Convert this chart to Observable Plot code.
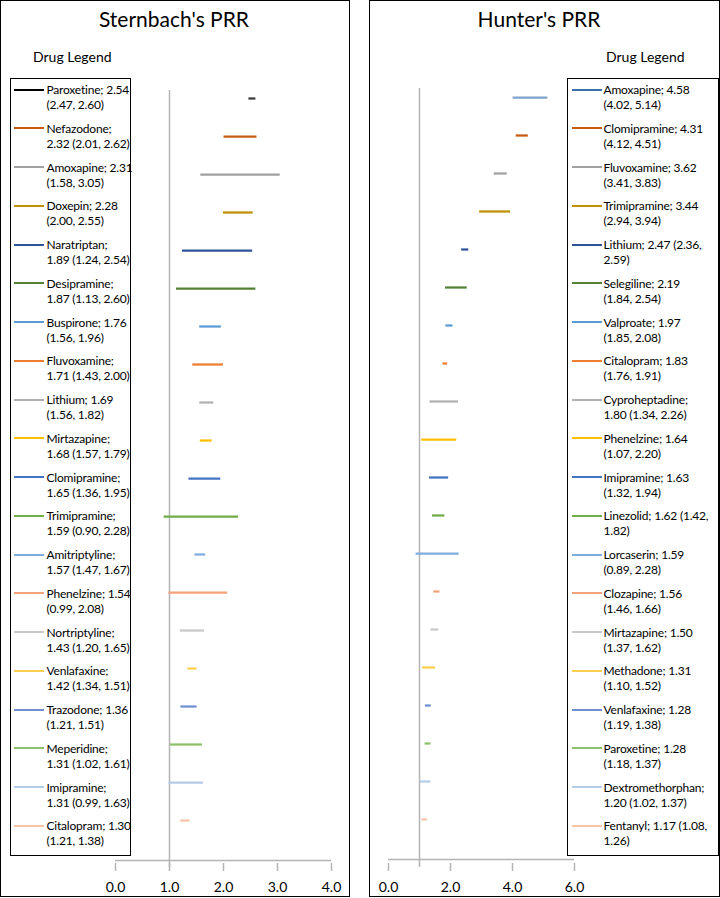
<!DOCTYPE html>
<html><head><meta charset="utf-8">
<script src="https://cdn.jsdelivr.net/npm/d3@7"></script>
<script src="https://cdn.jsdelivr.net/npm/@observablehq/plot@0.6"></script>
<style>
html,body{margin:0;padding:0;background:#fff;}
body{width:720px;height:898px;position:relative;overflow:hidden;font-family:Lato,"Open Sans",sans-serif;color:#000;}
.panel{position:absolute;top:0;height:897px;border:1.5px solid #000;box-sizing:border-box;}
.title{position:absolute;top:4px;font-size:21px;line-height:30px;text-align:center;white-space:nowrap;}
.dl{position:absolute;top:48px;font-size:14px;line-height:18px;white-space:nowrap;}
.legend{position:absolute;top:78px;height:778px;border:1.5px solid #000;box-sizing:border-box;background:#fff;padding-top:3px;}
.item{height:38.75px;position:relative;}
.swatch{position:absolute;top:6.5px;width:30px;height:2px;}
.txt{position:absolute;font-size:12px;line-height:15px;white-space:nowrap;letter-spacing:-0.2px;}
.chart{position:absolute;top:0;}
</style></head><body>
<script>
// ---- Sternbach's PRR ----
const sternDrugs = ["Paroxetine","Nefazodone","Amoxapine","Doxepin","Naratriptan","Desipramine","Buspirone","Fluvoxamine","Lithium","Mirtazapine","Clomipramine","Trimipramine","Amitriptyline","Phenelzine","Nortriptyline","Venlafaxine","Trazodone","Meperidine","Imipramine","Citalopram"];
const sternEst = [2.54,2.32,2.31,2.28,1.89,1.87,1.76,1.71,1.69,1.68,1.65,1.59,1.57,1.54,1.43,1.42,1.36,1.31,1.31,1.30];
const sternLo  = [2.47,2.01,1.58,2.00,1.24,1.13,1.56,1.43,1.56,1.57,1.36,0.90,1.47,0.99,1.20,1.34,1.21,1.02,0.99,1.21];
const sternHi  = [2.60,2.62,3.05,2.55,2.54,2.60,1.96,2.00,1.82,1.79,1.95,2.28,1.67,2.08,1.65,1.51,1.51,1.61,1.63,1.38];
const sternBreak = [2,1,2,2,1,1,2,1,2,1,1,1,1,2,1,1,2,1,1,2];
const sternTicks = [0,1,2,3,4];

// ---- Hunter's PRR ----
const hunterDrugs = ["Amoxapine","Clomipramine","Fluvoxamine","Trimipramine","Lithium","Selegiline","Valproate","Citalopram","Cyproheptadine","Phenelzine","Imipramine","Linezolid","Lorcaserin","Clozapine","Mirtazapine","Methadone","Venlafaxine","Paroxetine","Dextromethorphan","Fentanyl"];
const hunterEst = [4.58,4.31,3.62,3.44,2.47,2.19,1.97,1.83,1.80,1.64,1.63,1.62,1.59,1.56,1.50,1.31,1.28,1.28,1.20,1.17];
const hunterLo  = [4.02,4.12,3.41,2.94,2.36,1.84,1.85,1.76,1.34,1.07,1.32,1.42,0.89,1.46,1.37,1.10,1.19,1.18,1.02,1.08];
const hunterHi  = [5.14,4.51,3.83,3.94,2.59,2.54,2.08,1.91,2.26,2.20,1.94,1.82,2.28,1.66,1.62,1.52,1.38,1.37,1.37,1.26];
const hunterBreak = [2,2,2,2,3,2,2,2,1,2,2,3,2,2,2,2,2,2,1,3];
const hunterTicks = [0,2,4,6];

// series palette (Excel-like)
const palette = ["#000000","#c55a11","#a0a0a0","#bf9000","#2f5597","#548235","#5b9bd5","#ed7d31","#b0b0b0","#ffc000","#4472c4","#70ad47","#7eaede","#f4a27a","#c9c9c9","#ffd04f","#6f8fd0","#8cc168","#b4cbea","#f8c4a8"];
const sternLegendColors = palette;
const sternLineColors = ["#3a3a3a"].concat(palette.slice(1));
const hunterLegendColors = ["#3a70ad"].concat(palette.slice(1));
const hunterLineColors = ["#7ea3cb"].concat(palette.slice(1));
const axisGray = "#b4b4b4";

function labelLines(name, est, lo, hi, brk) {
  const parts = [name + ";", est.toFixed(2), "(" + lo.toFixed(2) + ",", hi.toFixed(2) + ")"];
  return [parts.slice(0, brk).join(" "), parts.slice(brk).join(" ")];
}

function el(tag, cls, parent, style) {
  const e = document.createElement(tag);
  if (cls) e.className = cls;
  if (style) Object.assign(e.style, style);
  if (parent) parent.appendChild(e);
  return e;
}

function drawPanel(cfg) {
  el("div", "panel", document.body, {left: cfg.panelLeft + "px", width: cfg.panelWidth + "px"});
  const data = cfg.drugs.map((d, i) => ({drug: d, lo: cfg.lo[i], hi: cfg.hi[i], est: cfg.est[i], color: cfg.lineColors[i]}));
  const lastDrug = cfg.drugs[cfg.drugs.length - 1];
  const chart = Plot.plot({
    width: 360, height: 898,
    marginLeft: cfg.marginLeft, marginRight: cfg.marginRight,
    marginTop: cfg.ruleTop, marginBottom: 31,
    x: {domain: cfg.xDomain},
    y: {type: "point", domain: cfg.drugs, range: cfg.yRange, padding: 0, axis: null},
    color: {type: "identity"},
    style: {fontFamily: "Lato, 'Open Sans', sans-serif", background: "transparent", overflow: "visible"},
    marks: [
      Plot.ruleX([1], {stroke: axisGray, strokeWidth: 1.5}),
      // horizontal axis line spanning the x domain, 40px below the last row
      Plot.ruleY([lastDrug], {y: d => d, x1: cfg.xDomain[0], x2: cfg.xDomain[1], dy: 867 - cfg.yRange[1], stroke: axisGray, strokeWidth: 1.5}),
      Plot.axisX(cfg.ticks, {tickFormat: d3.format(".1f"), tickSize: 4, tickPadding: 11, stroke: axisGray, strokeWidth: 1.5, fill: "#000", fontSize: 14, label: null}),
      Plot.axisX(cfg.ticks, {tickSize: 4, dy: -4, fill: "none", stroke: axisGray, strokeWidth: 1.5, label: null}),
      Plot.ruleY(data, {y: "drug", x1: "lo", x2: "hi", stroke: "color", strokeWidth: 2.25})
    ]
  });
  const wrap = el("div", "chart", document.body, {left: cfg.chartLeft + "px"});
  wrap.appendChild(chart);
  const t = el("div", "title", document.body, {left: (cfg.titleCx - 150) + "px", width: "300px"});
  t.textContent = cfg.title;
  const dl = el("div", "dl", document.body, {left: cfg.dlLeft + "px"});
  dl.textContent = "Drug Legend";
  const lg = el("div", "legend", document.body, {left: cfg.legendLeft + "px", width: cfg.legendWidth + "px"});
  cfg.drugs.forEach((d, i) => {
    const it = el("div", "item", lg);
    el("div", "swatch", it, {left: cfg.swLeft + "px", background: cfg.legendColors[i]});
    const lines = labelLines(d, cfg.est[i], cfg.lo[i], cfg.hi[i], cfg.brk[i]);
    const tx = el("div", "txt", it, {left: cfg.txLeft + "px"});
    tx.innerHTML = lines.join("<br>");
  });
}

drawPanel({
  title: "Sternbach's PRR", panelLeft: 0, panelWidth: 350, chartLeft: 0,
  titleCx: 174, dlLeft: 33,
  drugs: sternDrugs, est: sternEst, lo: sternLo, hi: sternHi, brk: sternBreak,
  legendColors: sternLegendColors, lineColors: sternLineColors,
  ticks: sternTicks, xDomain: [0, 4], marginLeft: 115, marginRight: 29,
  ruleTop: 90, yRange: [91, 827],
  legendLeft: 10, legendWidth: 121, swLeft: 2.5, txLeft: 35.5
});

drawPanel({
  title: "Hunter's PRR", panelLeft: 369, panelWidth: 351, chartLeft: 360,
  titleCx: 539, dlLeft: 606,
  drugs: hunterDrugs, est: hunterEst, lo: hunterLo, hi: hunterHi, brk: hunterBreak,
  legendColors: hunterLegendColors, lineColors: hunterLineColors,
  ticks: hunterTicks, xDomain: [0, 6], marginLeft: 28, marginRight: 146,
  ruleTop: 88, yRange: [89, 827],
  legendLeft: 567, legendWidth: 152, swLeft: 3.5, txLeft: 35.5
});
</script>
</body></html>
